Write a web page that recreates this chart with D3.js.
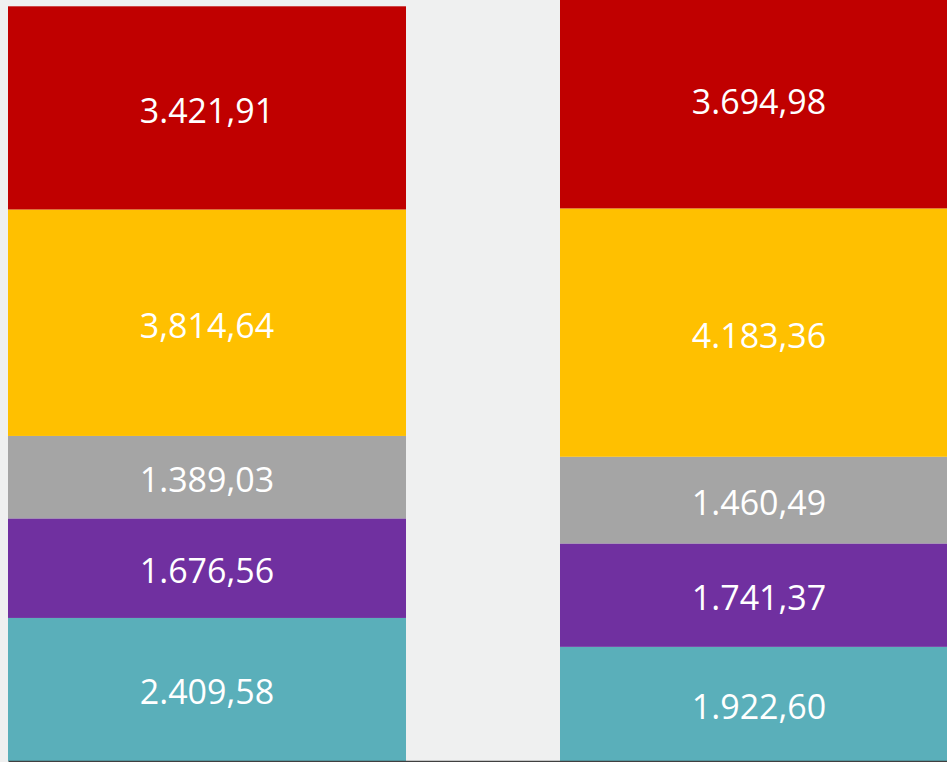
<!DOCTYPE html>
<html>
<head>
<meta charset="utf-8">
<script src="https://cdn.jsdelivr.net/npm/d3@7"></script>
<style>
  body { margin: 0; background: #eff0f0; overflow: hidden; }
  svg { display: block; }
</style>
</head>
<body>
<script>
var width = 947,
	height = 762;

// data
var categories = ["Bar 1", "Bar 2"];
var series = ["teal", "purple", "gray", "yellow", "red"];
var values = {
	teal:   [2409.58, 1922.60],
	purple: [1676.56, 1741.37],
	gray:   [1389.03, 1460.49],
	yellow: [3814.64, 4183.36],
	red:    [3421.91, 3694.98]
};
// labels as printed on the chart
var labels = {
	teal:   ["2.409,58", "1.922,60"],
	purple: ["1.676,56", "1.741,37"],
	gray:   ["1.389,03", "1.460,49"],
	yellow: ["3,814,64", "4.183,36"],
	red:    ["3.421,91", "3.694,98"]
};
var colors = {
	teal: "#5aafba",
	purple: "#7030a0",
	gray: "#a5a5a5",
	yellow: "#ffc000",
	red: "#c00000"
};

var rows = categories.map(function(c, i) {
	var r = {cat: c};
	series.forEach(function(s) { r[s] = values[s][i]; });
	return r;
});

var stack = d3.stack().keys(series)(rows);

var x = d3.scaleBand()
	.domain(categories)
	.range([8, 958])
	.paddingInner(0.279)
	.paddingOuter(0);

var y = d3.scaleLinear()
	.domain([0, 13000])
	.range([761, 761 - 13000 * 0.05937]);

var svg = d3.select("body")
	.append("svg")
	.attr("width", width)
	.attr("height", height);

var layer = svg.selectAll(".layer")
	.data(stack)
	.enter().append("g")
	.attr("class", "layer")
	.attr("fill", function(d) { return colors[d.key]; });

layer.selectAll("rect")
	.data(function(d) { return d; })
	.enter().append("rect")
	.attr("x", function(d) { return x(d.data.cat); })
	.attr("y", function(d) { return y(d[1]); })
	.attr("width", x.bandwidth())
	.attr("height", function(d) { return y(d[0]) - y(d[1]); });

// value labels
layer.selectAll("text")
	.data(function(d) { return d.map(function(p, i) { return {p: p, label: labels[d.key][i]}; }); })
	.enter().append("text")
	.attr("x", function(d) { return x(d.p.data.cat) + x.bandwidth() / 2; })
	.attr("y", function(d) { return (y(d.p[0]) + y(d.p[1])) / 2 + 2; })
	.attr("text-anchor", "middle")
	.attr("dominant-baseline", "central")
	.attr("fill", "#ffffff")
	.style("font-family", "'Open Sans', sans-serif")
	.style("font-size", "34px")
	.text(function(d) { return d.label; });

// baseline
svg.append("g")
	.attr("transform", "translate(0," + y(0) + ")")
	.call(d3.axisBottom(d3.scaleLinear().range([8, width])).ticks(0).tickSize(0))
	.call(function(g) { g.selectAll("text").remove(); })
	.select(".domain")
	.attr("stroke", "#404040")
	.attr("stroke-width", 1.5);
</script>
</body>
</html>
